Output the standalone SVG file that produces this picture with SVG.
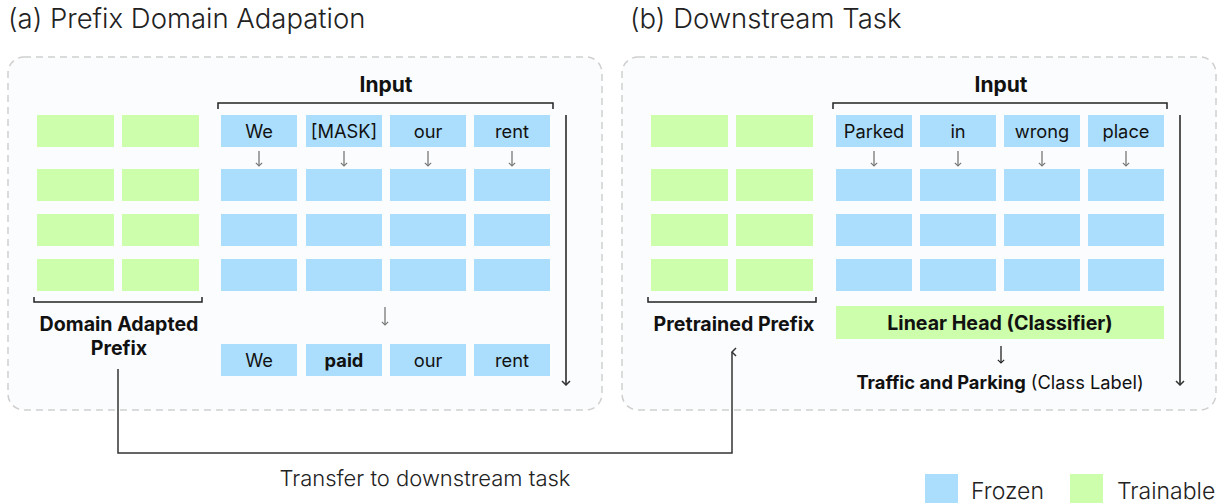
<svg xmlns="http://www.w3.org/2000/svg" width="1225" height="503" viewBox="0 0 1225 503">
<defs>
<style>
.panel{fill:#fbfcfd;stroke:#cfcfcf;stroke-width:1.5;stroke-dasharray:7 5}
.b{fill:#abdefc}
.g{fill:#ccfeab}
text{font-family:Inter,"Noto Sans","Liberation Sans",sans-serif;fill:#111}
.title{font-size:27.5px;font-weight:300;fill:#222}
.tok{font-size:18.3px;text-anchor:middle}
.bold{font-weight:700}
.lbl{font-size:19.6px;font-weight:700;text-anchor:middle}
.br{fill:none;stroke:#222;stroke-width:1.5}
.conn{fill:none;stroke:#333;stroke-width:1.5}
.va{fill:none;stroke:#555;stroke-width:2}
.sa{fill:none;stroke:#777;stroke-width:1.3}
</style>
<marker id="ah" viewBox="0 0 10 10" refX="5" refY="1" markerWidth="10" markerHeight="10" markerUnits="userSpaceOnUse" orient="auto-start-reverse">
<path d="M1,5 L5,1 L9,5" fill="none" stroke="#333" stroke-width="1.5"/>
</marker>
<marker id="ad" viewBox="0 0 10 10" refX="5" refY="9" markerWidth="10" markerHeight="10" markerUnits="userSpaceOnUse" orient="0">
<path d="M1,5 L5,9 L9,5" fill="none" stroke="#333" stroke-width="1.5"/>
</marker>
<marker id="sd" viewBox="0 0 10 10" refX="5" refY="9" markerWidth="9" markerHeight="9" markerUnits="userSpaceOnUse" orient="0">
<path d="M1.5,5.5 L5,9 L8.5,5.5" fill="none" stroke="#777" stroke-width="1.3"/>
</marker>
<marker id="sk" viewBox="0 0 10 10" refX="5" refY="9" markerWidth="9" markerHeight="9" markerUnits="userSpaceOnUse" orient="0">
<path d="M1.5,5.5 L5,9 L8.5,5.5" fill="none" stroke="#222" stroke-width="1.3"/>
</marker>
</defs>

<text class="title" x="8" y="28">(a) Prefix Domain Adapation</text>
<text class="title" x="630" y="28">(b) Downstream Task</text>

<g id="panel-a">
<rect class="panel" x="8" y="57" width="594" height="353" rx="16"/>
<g id="prefix-a">
<rect class="g" x="37" y="115" width="77" height="32"/><rect class="g" x="122" y="115" width="77" height="32"/>
<rect class="g" x="37" y="169" width="77" height="32"/><rect class="g" x="122" y="169" width="77" height="32"/>
<rect class="g" x="37" y="214" width="77" height="32"/><rect class="g" x="122" y="214" width="77" height="32"/>
<rect class="g" x="37" y="259" width="77" height="32"/><rect class="g" x="122" y="259" width="77" height="32"/>
<path class="br" d="M34,297 V302 H202 V297"/>
<text class="lbl" x="119" y="331">Domain Adapted</text>
<text class="lbl" x="119" y="355">Prefix</text>
</g>
<g id="input-a">
<path class="br" d="M218,109 V103 H553 V109"/>
<text class="lbl" x="386" y="92" style="font-size:21px">Input</text>
<rect class="b" x="221" y="115" width="76" height="32"/><rect class="b" x="306" y="115" width="76" height="32"/><rect class="b" x="390" y="115" width="76" height="32"/><rect class="b" x="474" y="115" width="76" height="32"/>
<text class="tok" x="259" y="137.5">We</text><text class="tok" x="344" y="137.5">[MASK]</text><text class="tok" x="428" y="137.5">our</text><text class="tok" x="512" y="137.5">rent</text>
<rect class="b" x="221" y="169" width="76" height="32"/><rect class="b" x="306" y="169" width="76" height="32"/><rect class="b" x="390" y="169" width="76" height="32"/><rect class="b" x="474" y="169" width="76" height="32"/>
<rect class="b" x="221" y="214" width="76" height="32"/><rect class="b" x="306" y="214" width="76" height="32"/><rect class="b" x="390" y="214" width="76" height="32"/><rect class="b" x="474" y="214" width="76" height="32"/>
<rect class="b" x="221" y="259" width="76" height="32"/><rect class="b" x="306" y="259" width="76" height="32"/><rect class="b" x="390" y="259" width="76" height="32"/><rect class="b" x="474" y="259" width="76" height="32"/>
<rect class="b" x="221" y="344" width="76" height="32"/><rect class="b" x="306" y="344" width="76" height="32"/><rect class="b" x="390" y="344" width="76" height="32"/><rect class="b" x="474" y="344" width="76" height="32"/>
<text class="tok" x="259" y="366.5">We</text><text class="tok bold" x="344" y="366.5">paid</text><text class="tok" x="428" y="366.5">our</text><text class="tok" x="512" y="366.5">rent</text>
</g>
</g>

<g id="panel-b">
<rect class="panel" x="622" y="57" width="594" height="353" rx="16"/>
<g id="prefix-b">
<rect class="g" x="651" y="115" width="77" height="32"/><rect class="g" x="736" y="115" width="77" height="32"/>
<rect class="g" x="651" y="169" width="77" height="32"/><rect class="g" x="736" y="169" width="77" height="32"/>
<rect class="g" x="651" y="214" width="77" height="32"/><rect class="g" x="736" y="214" width="77" height="32"/>
<rect class="g" x="651" y="259" width="77" height="32"/><rect class="g" x="736" y="259" width="77" height="32"/>
<path class="br" d="M648,297 V302 H816 V297"/>
<text class="lbl" x="734" y="331">Pretrained Prefix</text>
</g>
<g id="input-b">
<path class="br" d="M833,109 V103 H1167 V109"/>
<text class="lbl" x="1001" y="92" style="font-size:21px">Input</text>
<rect class="b" x="836" y="115" width="76" height="32"/><rect class="b" x="920" y="115" width="76" height="32"/><rect class="b" x="1004" y="115" width="76" height="32"/><rect class="b" x="1088" y="115" width="76" height="32"/>
<text class="tok" x="874" y="137.5">Parked</text><text class="tok" x="958" y="137.5">in</text><text class="tok" x="1042" y="137.5">wrong</text><text class="tok" x="1126" y="137.5">place</text>
<rect class="b" x="836" y="169" width="76" height="32"/><rect class="b" x="920" y="169" width="76" height="32"/><rect class="b" x="1004" y="169" width="76" height="32"/><rect class="b" x="1088" y="169" width="76" height="32"/>
<rect class="b" x="836" y="214" width="76" height="32"/><rect class="b" x="920" y="214" width="76" height="32"/><rect class="b" x="1004" y="214" width="76" height="32"/><rect class="b" x="1088" y="214" width="76" height="32"/>
<rect class="b" x="836" y="259" width="76" height="32"/><rect class="b" x="920" y="259" width="76" height="32"/><rect class="b" x="1004" y="259" width="76" height="32"/><rect class="b" x="1088" y="259" width="76" height="32"/>
</g>
<g id="linear-head">
<rect class="g" x="836" y="306" width="328" height="33"/>
<text class="lbl" x="1000" y="330">Linear Head (Classifier)</text>
<text x="1000" y="389" style="font-size:18.3px;text-anchor:middle"><tspan font-weight="700">Traffic and Parking</tspan> (Class Label)</text>
</g>
</g>

<g id="connectors">
<path class="sa" d="M259,151 V166" marker-end="url(#sd)"/>
<path class="sa" d="M344,151 V166" marker-end="url(#sd)"/>
<path class="sa" d="M428,151 V166" marker-end="url(#sd)"/>
<path class="sa" d="M512,151 V166" marker-end="url(#sd)"/>
<path class="sa" d="M385,307 V325" marker-end="url(#sd)"/>
<path class="sa" d="M874,151 V166" marker-end="url(#sd)"/>
<path class="sa" d="M958,151 V166" marker-end="url(#sd)"/>
<path class="sa" d="M1042,151 V166" marker-end="url(#sd)"/>
<path class="sa" d="M1126,151 V166" marker-end="url(#sd)"/>
<path class="sa" style="stroke:#222" d="M1001,346 V363" marker-end="url(#sk)"/>
<path class="va" d="M566,115 V385" marker-end="url(#ad)"/>
<path class="va" d="M1180,115 V385" marker-end="url(#ad)"/>
<path class="conn" d="M118,369 V453 H732 V352" marker-end="url(#ah)"/>
<text x="425" y="486" style="font-size:22px;font-weight:300;text-anchor:middle;fill:#222">Transfer to downstream task</text>
</g>

<g id="legend">
<rect class="b" x="925" y="474" width="33" height="30"/>
<text x="971" y="499" style="font-size:23px;font-weight:300;fill:#222">Frozen</text>
<rect class="g" x="1070" y="474" width="33" height="30"/>
<text x="1117" y="499" style="font-size:23px;font-weight:300;fill:#222">Trainable</text>
</g>
</svg>
